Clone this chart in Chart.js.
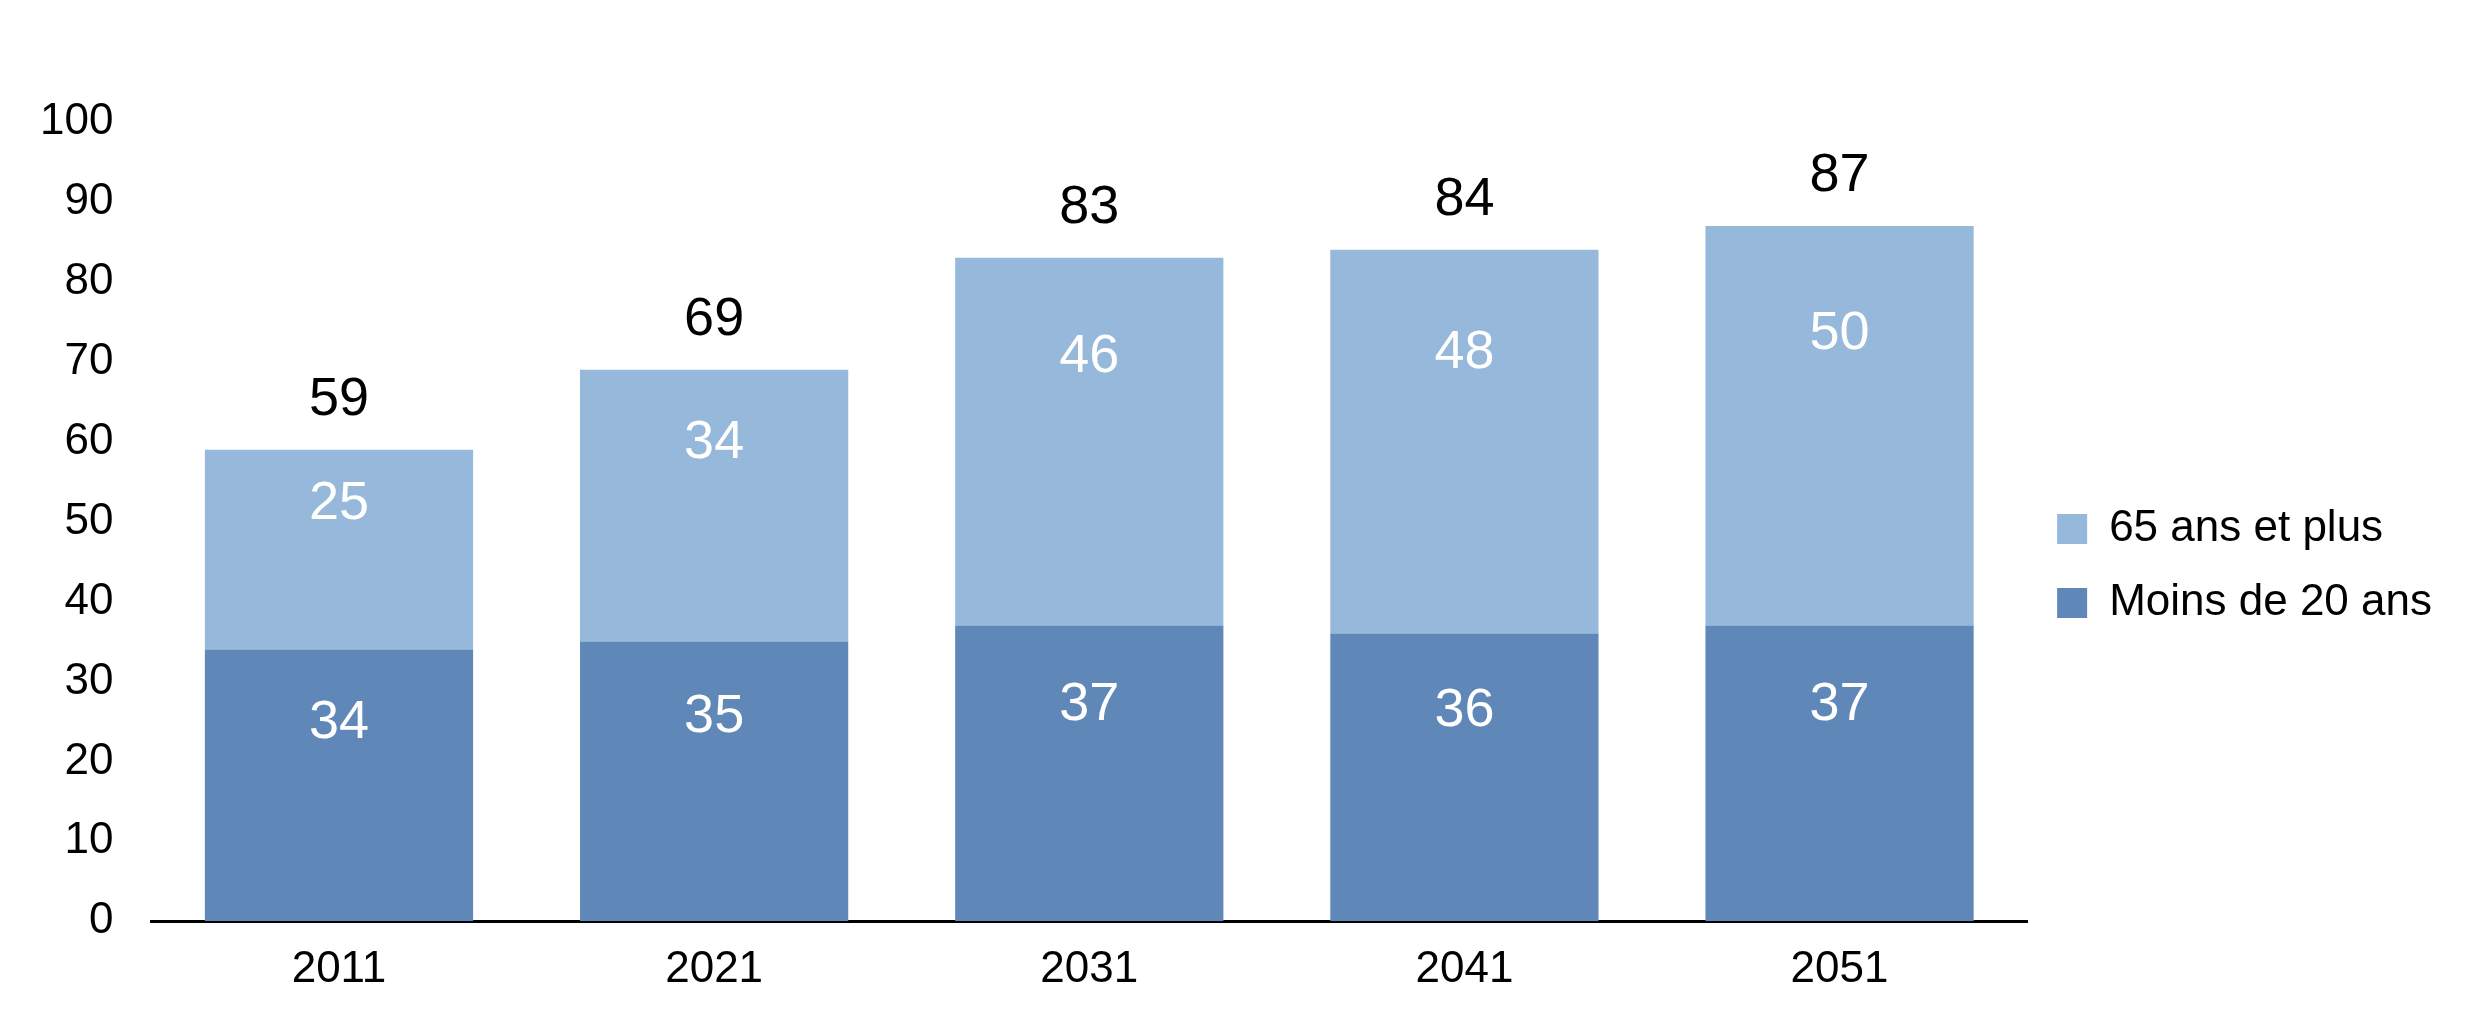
<!DOCTYPE html>
<html>
<head>
<meta charset="utf-8">
<script src="https://cdn.jsdelivr.net/npm/chart.js@4"></script>
<style>
  body { margin: 0; background: #fff; }
</style>
</head>
<body>
<canvas id="chart" width="2482" height="1016"></canvas>
<script>
// Data
const years = ['2011', '2021', '2031', '2041', '2051'];
const under20 = [34, 35, 37, 36, 37];
const over65 = [25, 34, 46, 48, 50];
const totals = [59, 69, 83, 84, 87];
const yTicks = [0, 10, 20, 30, 40, 50, 60, 70, 80, 90, 100];

const FONT = 'Arial, "Liberation Sans", sans-serif';

// Value labels inside bars and totals on top
const labelPlugin = {
    id: 'labels',
    afterDatasetsDraw(chart) {
        const ctx = chart.ctx;
        const y = chart.scales.y;
        ctx.save();
        ctx.textAlign = 'center';
        ctx.textBaseline = 'middle';
        ctx.font = '54px ' + FONT;
        chart.data.datasets.forEach((ds, i) => {
            const meta = chart.getDatasetMeta(i);
            meta.data.forEach((bar, j) => {
                ctx.fillStyle = '#ffffff';
                ctx.fillText(ds.data[j], bar.x, bar.y + (bar.base - bar.y) * 0.27);
            });
        });
        const meta = chart.getDatasetMeta(1);
        meta.data.forEach((bar, j) => {
            ctx.fillStyle = '#000000';
            ctx.fillText(totals[j], bar.x, y.getPixelForValue(totals[j]) - 50);
        });
        ctx.restore();
    }
};

const chart = new Chart(document.getElementById('chart').getContext('2d'), {
    type: 'bar',
    data: {
        labels: years,
        datasets: [{
            label: 'Moins de 20 ans',
            data: under20,
            backgroundColor: '#5f87b8'
        }, {
            label: '65 ans et plus',
            data: over65,
            backgroundColor: '#96b8da'
        }]
    },
    options: {
        responsive: false,
        animation: false,
        devicePixelRatio: 1,
        layout: { padding: { top: 122, right: 40, left: 10, bottom: 6 } },
        datasets: { bar: { categoryPercentage: 0.715, barPercentage: 1 } },
        plugins: {
            legend: {
                position: 'right',
                reverse: true,
                labels: {
                    boxWidth: 30, boxHeight: 30, padding: 30,
                    color: '#000',
                    font: { size: 44, family: FONT }
                }
            },
            tooltip: { enabled: false }
        },
        scales: {
            x: {
                stacked: true,
                grid: { display: false },
                border: { color: '#000', width: 3 },
                ticks: { color: '#000', padding: 14, font: { size: 44, family: FONT } }
            },
            y: {
                stacked: true,
                min: 0, max: 100,
                afterBuildTicks: (s) => { s.ticks = yTicks.map(v => ({ value: v })); },
                grid: { display: false },
                border: { display: false },
                ticks: { color: '#000', padding: 30, font: { size: 44, family: FONT } }
            }
        }
    },
    plugins: [labelPlugin]
});
</script>
</body>
</html>
